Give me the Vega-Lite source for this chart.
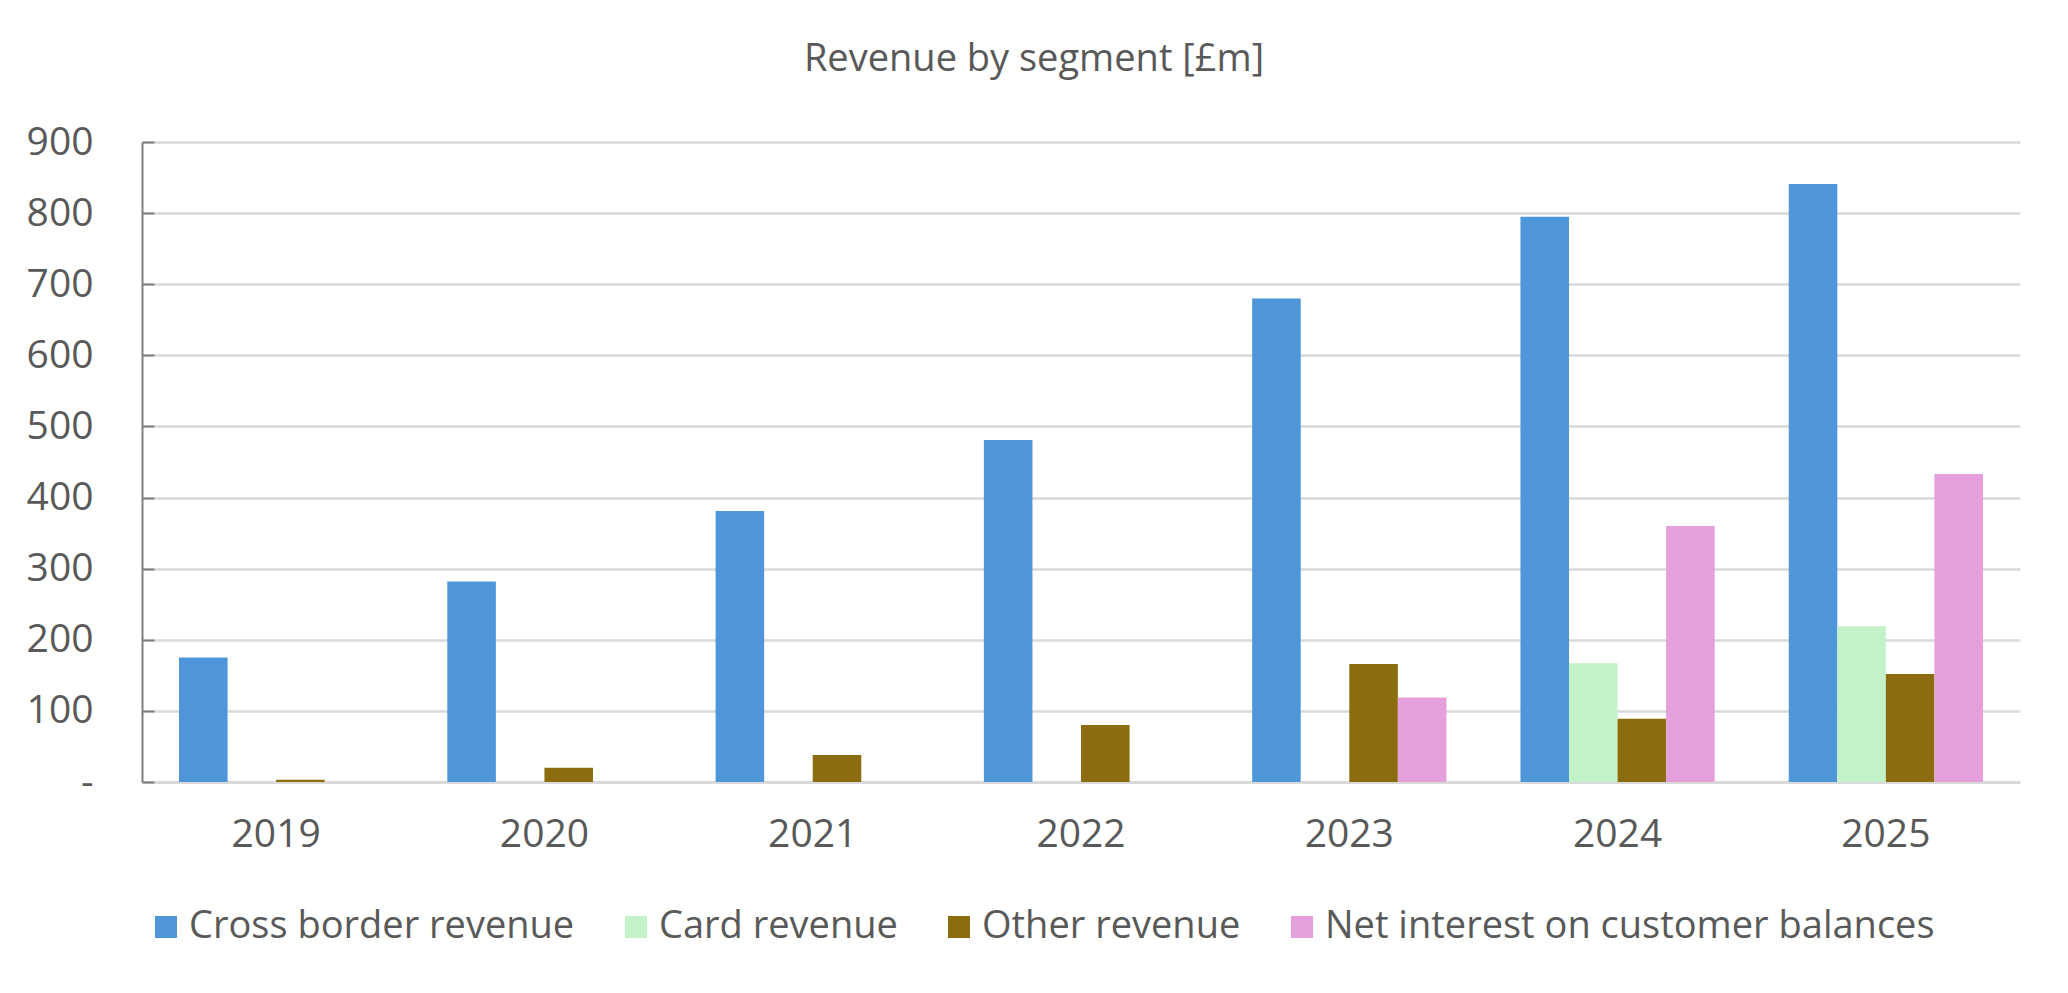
{
  "$schema": "https://vega.github.io/schema/vega-lite/v6.json",
  "width": 1878,
  "height": 640,
  "autosize": {"type": "none"},
  "padding": {"left": 142, "top": 142, "right": 48, "bottom": 211},
  "background": "white",
  "config": {
    "view": {"stroke": null},
    "font": "Open Sans",
    "text": {"font": "Open Sans"}
  },
  "title": {
    "text": "Revenue by segment [£m]",
    "font": "Open Sans",
    "fontSize": 38,
    "fontWeight": "normal",
    "color": "#595959",
    "anchor": "middle",
    "dx": -47,
    "offset": 44
  },
  "data": {
    "values": [
      {"year": "2019", "segment": "Cross border revenue", "value": 175},
      {"year": "2019", "segment": "Other revenue", "value": 3},
      {"year": "2020", "segment": "Cross border revenue", "value": 282},
      {"year": "2020", "segment": "Other revenue", "value": 20},
      {"year": "2021", "segment": "Cross border revenue", "value": 381},
      {"year": "2021", "segment": "Other revenue", "value": 38},
      {"year": "2022", "segment": "Cross border revenue", "value": 481},
      {"year": "2022", "segment": "Other revenue", "value": 80},
      {"year": "2023", "segment": "Cross border revenue", "value": 680},
      {"year": "2023", "segment": "Other revenue", "value": 166},
      {"year": "2023", "segment": "Net interest on customer balances", "value": 119},
      {"year": "2024", "segment": "Cross border revenue", "value": 795},
      {"year": "2024", "segment": "Card revenue", "value": 167},
      {"year": "2024", "segment": "Other revenue", "value": 89},
      {"year": "2024", "segment": "Net interest on customer balances", "value": 360},
      {"year": "2025", "segment": "Cross border revenue", "value": 841},
      {"year": "2025", "segment": "Card revenue", "value": 219},
      {"year": "2025", "segment": "Other revenue", "value": 152},
      {"year": "2025", "segment": "Net interest on customer balances", "value": 433}
    ]
  },
  "mark": {"type": "bar"},
  "encoding": {
    "x": {
      "field": "year",
      "type": "nominal",
      "sort": ["2019", "2020", "2021", "2022", "2023", "2024", "2025"],
      "scale": {"paddingInner": 0.276, "paddingOuter": 0.138},
      "axis": {
        "title": null,
        "labelAngle": 0,
        "labelFont": "Open Sans",
        "labelFontSize": 39,
        "labelColor": "#595959",
        "labelPadding": 33,
        "ticks": false,
        "domainColor": "#d9d9d9",
        "domainWidth": 3,
        "grid": false
      }
    },
    "xOffset": {
      "field": "segment",
      "type": "nominal",
      "sort": ["Cross border revenue", "Card revenue", "Other revenue", "Net interest on customer balances"],
      "scale": {"domain": ["Cross border revenue", "Card revenue", "Other revenue", "Net interest on customer balances"], "paddingInner": 0, "paddingOuter": 0}
    },
    "y": {
      "field": "value",
      "type": "quantitative",
      "scale": {"domain": [0, 900], "nice": false},
      "axis": {
        "title": null,
        "values": [0, 100, 200, 300, 400, 500, 600, 700, 800, 900],
        "labelExpr": "datum.value == 0 ? '-' : datum.label",
        "labelFont": "Open Sans",
        "labelFontSize": 39,
        "labelColor": "#595959",
        "tickSize": -12,
        "tickColor": "#7f7f7f",
        "tickWidth": 2,
        "labelPadding": 61,
        "domainColor": "#7f7f7f",
        "domainWidth": 2,
        "gridColor": "#d9d9d9",
        "gridWidth": 2.5
      }
    },
    "color": {
      "field": "segment",
      "type": "nominal",
      "scale": {
        "domain": ["Cross border revenue", "Card revenue", "Other revenue", "Net interest on customer balances"],
        "range": ["#4f95d9", "#c3f2c8", "#8b6d10", "#e49fdc"]
      },
      "legend": {
        "orient": "none",
        "legendX": 5,
        "legendY": 766,
        "direction": "horizontal",
        "title": null,
        "padding": 0,
        "symbolType": "square",
        "symbolSize": 484,
        "symbolStrokeWidth": 0,
        "labelFont": "Open Sans",
        "labelFontSize": 38,
        "labelColor": "#595959",
        "labelOffset": 4,
        "columnPadding": 42,
        "labelLimit": 1000
      }
    }
  }
}
